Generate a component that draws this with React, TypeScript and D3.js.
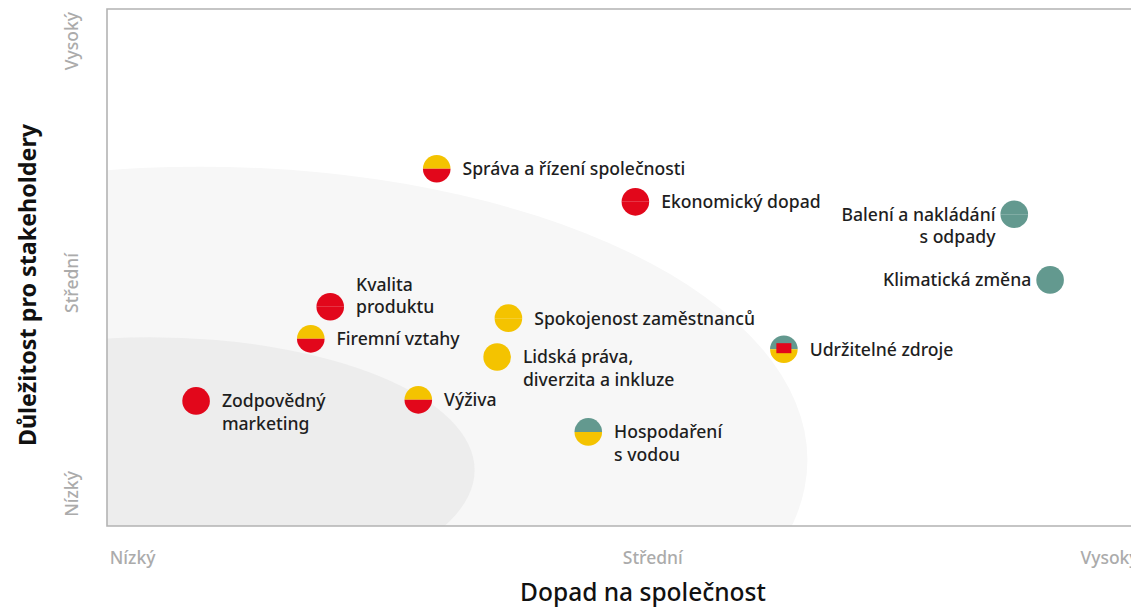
import React from "react";
import * as d3 from "d3";

const topics = [
  "Správa a řízení společnosti",
  "Ekonomický dopad",
  "Balení a nakládání|s odpady",
  "Klimatická změna",
  "Kvalita|produktu",
  "Firemní vztahy",
  "Spokojenost zaměstnanců",
  "Lidská práva,|diverzita a inkluze",
  "Udržitelné zdroje",
  "Zodpovědný|marketing",
  "Výživa",
  "Hospodaření|s vodou",
];
// impact on society (x) and stakeholder importance (y), 0..100
const impact = [32.2, 51.6, 88.6, 92.1, 21.8, 19.9, 39.2, 38.1, 66.1, 8.7, 30.4, 47.0];
const importance = [69.1, 62.7, 60.3, 47.6, 42.4, 36.2, 40.2, 32.7, 34.2, 24.2, 24.4, 18.2];
// marker kind: upper/lower half colours, "box" = red rectangle inside
const markerTop = ["yellow", "red", "teal", "teal", "red", "yellow", "yellow", "yellow", "teal", "red", "yellow", "teal"];
const markerBottom = ["red", "red", "teal", "teal", "red", "red", "yellow", "yellow", "yellow", "red", "red", "yellow"];
const markerBox = [false, false, false, false, false, false, false, false, true, false, false, false];

const xTickLabels = ["Nízký", "Střední", "Vysoký"];
const xTickValues = [2.5, 53.3, 97.9];
const yTickLabels = ["Nízký", "Střední", "Vysoký"];
const yTickValues = [6.2, 47.0, 93.8];

const xTitle = "Dopad na společnost";
const yTitle = "Důležitost pro stakeholdery";

// zones (ellipses in data units): cx, cy, rx, ry
const zoneCx = [9.1, 4.2];
const zoneCy = [12.8, 10.8];
const zoneRx = [59.3, 31.7];
const zoneRy = [56.7, 25.7];

const COLORS: Record<string, string> = {
  red: "#e2071b",
  yellow: "#f4c300",
  teal: "#63998f",
};
const zoneFill = ["#f7f7f7", "#ededed"];

const labelLeft = [false, false, true, true, false, false, false, false, false, false, false, false];
const labelLineAnchor = [0, 0, 0, 0, 1, 0, 0, 0, 0, 0, 0, 0];

export default function App() {
  const W = 1131;
  const H = 608;
  const left = 107;
  const right = 1131;
  const top = 9;
  const bottom = 526;
  const x = d3.scaleLinear().domain([0, 100]).range([left, right]);
  const y = d3.scaleLinear().domain([0, 100]).range([bottom, top]);
  const font = "'Noto Sans', Lato, sans-serif";
  const r = 13.8;
  const fs = 17.6;
  const lh = 22.5;

  const halfArc = (upper: boolean) =>
    d3.arc()({
      innerRadius: 0,
      outerRadius: r,
      startAngle: upper ? -Math.PI / 2 : Math.PI / 2,
      endAngle: upper ? Math.PI / 2 : (3 * Math.PI) / 2,
    }) as string;

  return (
    <svg
      width={W}
      height={H}
      style={{ position: "absolute", left: 0, top: 0, background: "#fff" }}
      fontFamily={font}
    >
      <defs>
        <clipPath id="plot">
          <rect x={left} y={top} width={right - left} height={bottom - top} />
        </clipPath>
      </defs>
      <g clipPath="url(#plot)">
        {zoneCx.map((cx, i) => (
          <ellipse
            key={i}
            cx={x(cx)}
            cy={y(zoneCy[i])}
            rx={x(zoneRx[i]) - x(0)}
            ry={y(0) - y(zoneRy[i])}
            fill={zoneFill[i]}
          />
        ))}
      </g>
      <path
        d={`M${right + 2},${top} H${left} V${bottom} H${right + 2}`}
        fill="none"
        stroke="#b3b3b3"
        strokeWidth={1.6}
      />
      {xTickLabels.map((t, i) => (
        <text
          key={t}
          x={x(xTickValues[i])}
          y={564}
          textAnchor="middle"
          fontSize={17.5}
          fontWeight={500}
          fill="#ababab"
        >
          {t}
        </text>
      ))}
      {yTickLabels.map((t, i) => (
        <text
          key={t}
          transform={`translate(78,${y(yTickValues[i])}) rotate(-90)`}
          textAnchor="middle"
          fontSize={17.5}
          fontWeight={500}
          fill="#ababab"
        >
          {t}
        </text>
      ))}
      <text x={643} y={601} textAnchor="middle" fontSize={24.5} fontWeight={500} fill="#111">
        {xTitle}
      </text>
      <text
        transform={`translate(36,${285}) rotate(-90)`}
        textAnchor="middle"
        fontSize={23.3}
        fontWeight={700}
        fill="#111"
      >
        {yTitle}
      </text>
      {topics.map((name, i) => {
        const cx = x(impact[i]);
        const cy = y(importance[i]);
        const lines = name.split("|");
        const tx = labelLeft[i] ? cx - r - 5 : cx + r + 12;
        const ty0 = cy - labelLineAnchor[i] * lh + fs * 0.36;
        return (
          <g key={name}>
            <g transform={`translate(${cx},${cy})`}>
              <path d={halfArc(true)} fill={COLORS[markerTop[i]]} />
              <path d={halfArc(false)} fill={COLORS[markerBottom[i]]} />
              {markerBox[i] && <rect x={-7.5} y={-6} width={15} height={10} fill={COLORS.red} />}
            </g>
            <text
              x={tx}
              y={ty0}
              textAnchor={labelLeft[i] ? "end" : "start"}
              fontSize={fs}
              fontWeight={500}
              fill="#1e1e1e"
            >
              {lines.map((l, j) => (
                <tspan key={j} x={tx} y={ty0 + j * lh}>
                  {l}
                </tspan>
              ))}
            </text>
          </g>
        );
      })}
    </svg>
  );
}
